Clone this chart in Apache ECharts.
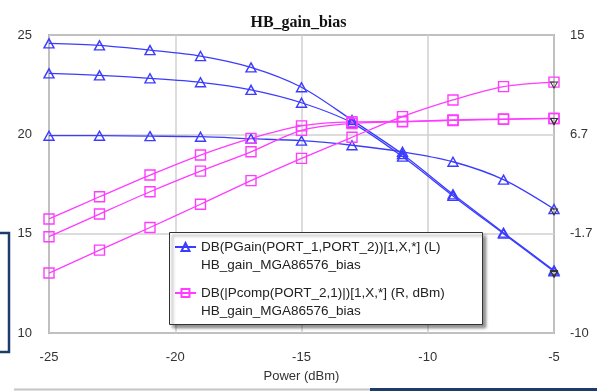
<!DOCTYPE html>
<html>
<head>
<meta charset="utf-8">
<script src="https://cdn.jsdelivr.net/npm/echarts@6/dist/echarts.min.js"></script>
<style>
  html, body { margin: 0; padding: 0; background: #fff; }
  #chart { width: 597px; height: 391px; }
</style>
</head>
<body>
<div id="chart"></div>
<script>
// Input power sweep (dBm)
const powerIn = [-25, -23, -21, -19, -17, -15, -13, -11, -9, -7, -5];

// Power gain (dB, left axis), one trace per bias point
const gainBias1 = [24.58, 24.48, 24.24, 23.94, 23.37, 22.37, 20.72, 19.0, 16.98, 15.05, 13.15];
const gainBias2 = [23.07, 22.97, 22.82, 22.62, 22.24, 21.59, 20.58, 18.88, 16.9, 15.0, 13.1];
const gainBias3 = [19.93, 19.93, 19.91, 19.88, 19.78, 19.68, 19.45, 19.12, 18.62, 17.72, 16.24];

// Output power (dBm, right axis), one trace per bias point
const pcompBias1 = [-0.43, 1.43, 3.25, 4.93, 6.33, 7.38, 7.72, 7.75, 7.87, 7.95, 8.0];
const pcompBias2 = [-1.92, -0.02, 1.85, 3.58, 5.2, 7.0, 7.58, 7.72, 7.83, 7.92, 8.0];
const pcompBias3 = [-4.97, -3.05, -1.15, 0.8, 2.78, 4.65, 6.42, 8.15, 9.55, 10.67, 11.05];

// Axis ranges / ticks
const leftTicks = { min: 10, max: 25, step: 5 };
const rightTicks = { min: -10, max: 15, step: 25 / 3 };
const xTicks = { min: -25, max: -5, step: 5 };

const gainName = 'DB(PGain(PORT_1,PORT_2))[1,X,*] (L)';
const pcompName = 'DB(|Pcomp(PORT_2,1)|)[1,X,*] (R, dBm)';
const docName = 'HB_gain_MGA86576_bias';

const BLUE = '#3c3cff';
const PINK = '#ff3cff';

function pairs(ys) { return powerIn.map((x, i) => [x, ys[i]]); }

function traceSeries(name, ys, color, symbol, yAxisIndex) {
  const last = ys[ys.length - 1];
  return {
    name: name,
    type: 'line',
    yAxisIndex: yAxisIndex,
    data: pairs(ys),
    smooth: 0.3,
    symbol: symbol,
    symbolSize: symbol === 'triangle' ? [10, 9] : 10,
    showAllSymbol: true,
    lineStyle: { color: color, width: 1.3 },
    itemStyle: { color: 'rgba(255,255,255,0)', borderColor: color, borderWidth: 1.4 },
    emphasis: { disabled: true },
    markPoint: {
      silent: true,
      symbol: 'triangle',
      symbolRotate: 180,
      symbolSize: [7, 6],
      symbolOffset: [0, 3],
      itemStyle: { color: 'rgba(255,255,255,0)', borderColor: '#333', borderWidth: 1 },
      label: { show: false },
      data: [{ coord: [powerIn[powerIn.length - 1], last] }]
    },
    z: 2
  };
}

const chart = echarts.init(document.getElementById('chart'), null, { renderer: 'canvas' });

chart.setOption({
  animation: false,
  backgroundColor: '#fff',
  title: {
    text: 'HB_gain_bias',
    left: 'center',
    top: 10,
    textStyle: { fontFamily: 'Liberation Serif', fontWeight: 'bold', fontSize: 16, color: '#111' }
  },
  grid: {
    left: 49, right: 43, top: 35, bottom: 58,
    show: true,
    borderColor: '#6e6e6e',
    borderWidth: 1.5,
    backgroundColor: 'rgba(0,0,0,0)'
  },
  graphic: [
    // legend frame with drop shadow
    {
      type: 'rect', z: 3,
      shape: { x: 169.5, y: 232.5, width: 313, height: 92 },
      style: { fill: '#fff', stroke: '#333', lineWidth: 1,
               shadowColor: 'rgba(0,0,0,0.45)', shadowBlur: 3, shadowOffsetX: 3, shadowOffsetY: 3 }
    },
    // page decorations
    {
      type: 'polyline', z: 1,
      shape: { points: [[0, 233], [9, 233], [9, 352], [0, 352]] },
      style: { stroke: '#1d3c6e', lineWidth: 2.5, fill: null }
    },
    {
      type: 'line', z: 1,
      shape: { x1: 14, y1: 389.5, x2: 370, y2: 389.5 },
      style: { stroke: '#c4c4c4', lineWidth: 2 }
    },
    {
      type: 'rect', z: 1,
      shape: { x: 370, y: 388, width: 227, height: 3 },
      style: { fill: '#1d3c6e' }
    }
  ],
  legend: {
    z: 5,
    left: 174,
    top: 220,
    orient: 'vertical',
    padding: 0,
    itemGap: -8,
    itemWidth: 21,
    itemHeight: 10,
    data: [gainName, pcompName],
    // blank first line keeps the entry name level with its icon,
    // the dataset name sits on the line below
    formatter: function (name) { return '\n' + name + '\n' + docName; },
    textStyle: {
      fontFamily: 'Liberation Sans',
      fontSize: 13.5,
      color: '#222',
      lineHeight: 18
    }
  },
  xAxis: {
    type: 'value',
    min: xTicks.min, max: xTicks.max, interval: xTicks.step,
    name: 'Power (dBm)',
    nameLocation: 'middle',
    nameGap: 37,
    nameTextStyle: { fontFamily: 'Liberation Sans', fontSize: 13, color: '#333' },
    axisLine: { show: false },
    axisTick: { show: false },
    axisLabel: { fontFamily: 'Liberation Sans', fontSize: 13, color: '#333', margin: 18 },
    splitLine: { show: true, lineStyle: { color: '#d0d0d0', width: 1.5 } }
  },
  yAxis: [
    {
      type: 'value',
      position: 'left',
      min: leftTicks.min, max: leftTicks.max, interval: leftTicks.step,
      axisLine: { show: false },
      axisTick: { show: false },
      axisLabel: { fontFamily: 'Liberation Sans', fontSize: 13, color: '#333', margin: 17 },
      splitLine: { show: true, lineStyle: { color: '#d0d0d0', width: 1.5 } }
    },
    {
      type: 'value',
      position: 'right',
      min: rightTicks.min, max: rightTicks.max, interval: rightTicks.step,
      axisLine: { show: false },
      axisTick: { show: false },
      axisLabel: {
        fontFamily: 'Liberation Sans', fontSize: 13, color: '#333', margin: 16,
        formatter: function (v) { return String(Math.round(v * 10) / 10); }
      },
      splitLine: { show: false }
    }
  ],
  series: [
    traceSeries(gainName, gainBias1, BLUE, 'triangle', 0),
    traceSeries(gainName, gainBias2, BLUE, 'triangle', 0),
    traceSeries(gainName, gainBias3, BLUE, 'triangle', 0),
    traceSeries(pcompName, pcompBias1, PINK, 'rect', 1),
    traceSeries(pcompName, pcompBias2, PINK, 'rect', 1),
    traceSeries(pcompName, pcompBias3, PINK, 'rect', 1)
  ]
});
</script>
</body>
</html>
